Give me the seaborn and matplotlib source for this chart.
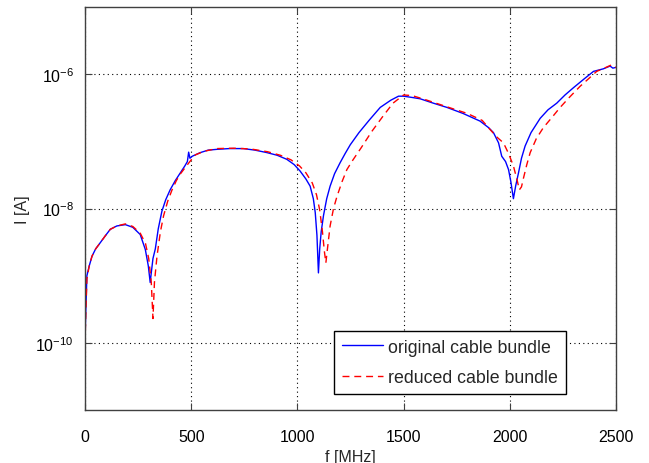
import numpy as np
import pandas as pd
import seaborn as sns
import matplotlib
matplotlib.use("Agg")
import matplotlib.pyplot as plt

# ---- data ----
f_orig = [0, 3, 9, 20, 33, 50, 72, 95, 119, 150, 190, 225, 260, 284, 298, 307, 312, 320, 331, 345,
          362, 380, 401, 425, 449, 470, 482, 488, 494, 505, 543, 580, 621, 680, 745, 800, 856, 905,
          950, 985, 1013, 1040, 1060, 1075, 1084, 1092, 1099, 1105, 1112, 1123, 1138, 1154, 1175,
          1201, 1225, 1249, 1290, 1340, 1390, 1440, 1476, 1500, 1540, 1578, 1640, 1704, 1780, 1860,
          1900, 1923, 1947, 1962, 1980, 1994, 2005, 2017, 2028, 2041, 2055, 2072, 2100, 2143, 2180,
          2221, 2260, 2300, 2350, 2394, 2440, 2472, 2485, 2500]
i_orig = [1.0e-10, 2.5e-10, 1.0e-9, 1.4e-9, 1.95e-9, 2.5e-9, 3.1e-9, 3.9e-9, 4.9e-9, 5.5e-9,
          5.75e-9, 5.25e-9, 4.1e-9, 2.45e-9, 1.4e-9, 7.9e-10, 1.1e-9, 1.8e-9, 2.5e-9, 5.0e-9,
          9.1e-9, 1.35e-8, 1.9e-8, 2.6e-8, 3.4e-8, 4.3e-8, 5.0e-8, 6.9e-8, 5.6e-8, 6.0e-8,
          6.8e-8, 7.4e-8, 7.6e-8, 7.8e-8, 7.8e-8, 7.4e-8, 6.8e-8, 6.2e-8,
          5.4e-8, 4.5e-8, 3.6e-8, 2.75e-8, 2.15e-8, 1.4e-8, 8.7e-9, 4.0e-9, 1.1e-9, 2.5e-9,
          4.5e-9, 7.9e-9, 1.4e-8, 2.15e-8, 3.3e-8,
          4.8e-8, 6.6e-8, 8.9e-8, 1.35e-7, 2.1e-7, 3.2e-7, 4.1e-7, 4.7e-7, 4.7e-7, 4.5e-7,
          4.3e-7, 3.7e-7, 3.2e-7, 2.6e-7, 2.0e-7,
          1.6e-7, 1.35e-7, 9.5e-8, 6.0e-8, 5.0e-8, 3.8e-8, 2.5e-8, 1.4e-8, 2.2e-8, 3.4e-8,
          5.6e-8, 8.5e-8, 1.35e-7, 2.2e-7, 2.95e-7,
          3.7e-7, 4.9e-7, 6.3e-7, 8.5e-7, 1.1e-6, 1.2e-6, 1.32e-6, 1.23e-6, 1.26e-6]

f_red = [0, 3, 9, 20, 33, 50, 72, 95, 119, 150, 190, 225, 260, 285, 300, 312, 320, 327, 339, 355,
         370, 390, 410, 430, 450, 475, 500, 520, 560, 620, 700, 780, 860, 920, 970, 1010, 1040,
         1070, 1090, 1105, 1118, 1127, 1134, 1142, 1154, 1170, 1186, 1210, 1233, 1260, 1300, 1350,
         1400, 1450, 1500, 1540, 1600, 1700, 1800, 1870, 1907, 1940, 1970, 1995, 2017, 2035, 2045,
         2055, 2064, 2080, 2096, 2125, 2158, 2200, 2237, 2280, 2331, 2370, 2409, 2450, 2480, 2500]
i_red = [1.0e-10, 2.2e-10, 9.0e-10, 1.4e-9, 1.95e-9, 2.5e-9, 3.1e-9, 3.9e-9, 4.9e-9, 5.5e-9,
         5.9e-9, 5.4e-9, 4.3e-9, 3.0e-9, 1.8e-9, 8.0e-10, 2.3e-10, 8.0e-10, 1.95e-9, 4.5e-9,
         7.8e-9, 1.3e-8, 1.9e-8, 2.6e-8, 3.3e-8, 4.2e-8, 5.3e-8, 6.3e-8, 7.1e-8, 7.8e-8, 7.9e-8,
         7.7e-8, 7.0e-8, 6.2e-8, 5.3e-8, 4.3e-8, 3.4e-8,
         2.4e-8, 1.6e-8, 9.5e-9, 4.5e-9, 2.3e-9, 1.55e-9, 2.6e-9, 5.5e-9, 1.0e-8, 1.5e-8, 2.5e-8,
         3.8e-8, 5.2e-8, 8.0e-8, 1.4e-7,
         2.3e-7, 3.7e-7, 4.9e-7, 4.8e-7, 4.2e-7, 3.3e-7, 2.6e-7, 2.05e-7, 1.5e-7, 1.15e-7, 9.5e-8,
         6.5e-8, 4.3e-8, 2.6e-8, 1.9e-8,
         2.1e-8, 2.8e-8, 4.5e-8, 6.8e-8, 1.1e-7, 1.6e-7, 2.3e-7, 3.2e-7, 4.5e-7, 6.6e-7, 8.5e-7,
         1.1e-6, 1.25e-6, 1.38e-6, 1.26e-6]

labels = ["original cable bundle", "reduced cable bundle"]
x_ticks = [0, 500, 1000, 1500, 2000, 2500]
y_ticks = [1e-10, 1e-8, 1e-6]

# ---- style ----
sns.set_theme(style="white")
plt.rcParams['font.family'] = ['Liberation Sans', 'DejaVu Sans']
plt.rcParams['mathtext.fontset'] = 'custom'
plt.rcParams['mathtext.rm'] = 'Liberation Sans'
plt.rcParams['mathtext.it'] = 'Liberation Sans'
plt.rcParams['mathtext.default'] = 'regular'

fig = plt.figure(figsize=(6.49, 4.64), dpi=100)
ax = fig.add_axes([85 / 649, 1 - 411 / 464, (616 - 85) / 649, (411 - 8) / 464])

df_o = pd.DataFrame({"f": f_orig, "I": i_orig})
df_r = pd.DataFrame({"f": f_red, "I": i_red})
sns.lineplot(data=df_o, x="f", y="I", ax=ax, color=(0, 0, 1), lw=1.0,
             estimator=None, sort=False, label=labels[0])
sns.lineplot(data=df_r, x="f", y="I", ax=ax, color=(1, 0, 0), lw=1.0,
             estimator=None, sort=False, label=labels[1])
ax.lines[1].set_dashes((5, 3.5))

ax.set_yscale("log")
ax.set_xlim(0, 2500)
ax.set_ylim(1e-11, 1e-5)
ax.set_xticks(x_ticks)
ax.set_xticklabels([str(t) for t in x_ticks])
ax.set_yticks(y_ticks)
ax.set_yticklabels([r"$10^{-10}$", r"$10^{-8}$", r"$10^{-6}$"])
ax.yaxis.set_minor_locator(matplotlib.ticker.NullLocator())

ax.grid(True, which="major", color="black", linestyle=(0, (1, 3)), linewidth=0.8)
for s in ax.spines.values():
    s.set_color("#404040")
    s.set_linewidth(1.0)
ax.tick_params(axis="both", which="major", direction="in", length=5, width=0.8,
               colors="#404040", labelcolor="black", labelsize=11.5,
               top=True, right=True, bottom=True, left=True, pad=8)
ax.tick_params(axis="x", pad=14)

ax.set_xlabel("f [MHz]", fontsize=11.5, labelpad=3)
ax.set_ylabel("I [A]", fontsize=11.5, labelpad=4)

leg = ax.legend(loc="lower right", bbox_to_anchor=(0.905, 0.04), fontsize=12.8,
                frameon=True, fancybox=False, framealpha=1, edgecolor="black",
                handlelength=2.3, borderpad=0.45, labelspacing=0.75, handletextpad=0.25,
                borderaxespad=0.0)
leg.get_frame().set_linewidth(1.0)

fig.savefig("out.png", dpi=100, facecolor="white")
